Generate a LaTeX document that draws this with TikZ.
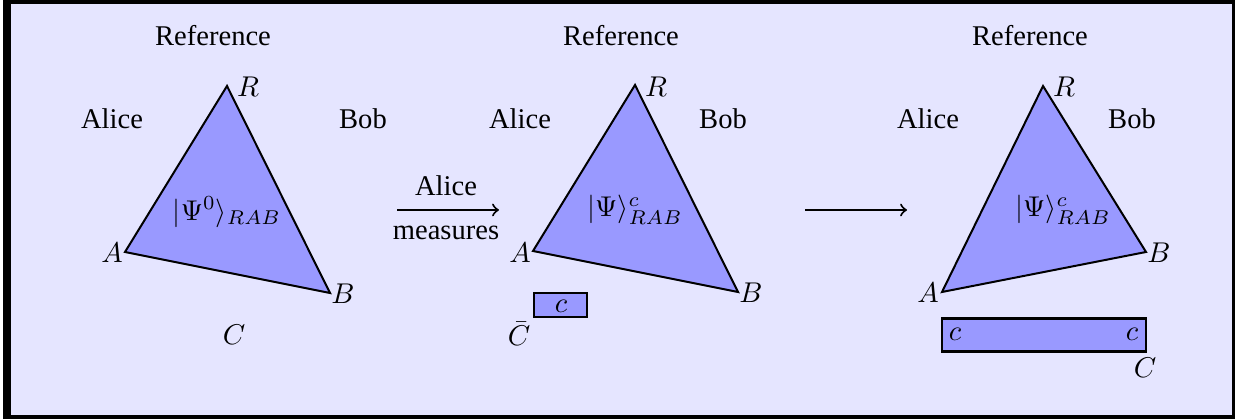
\documentclass[tikz,border=0pt]{standalone}
\usepackage{fontspec}
\setmainfont{Liberation Serif}
\definecolor{bgcol}{RGB}{229,229,255}
\definecolor{tfill}{RGB}{153,153,255}
\begin{document}
\begin{tikzpicture}[x=0.35pt,y=-0.35pt,
  tri/.style={fill=tfill,draw=black,line width=0.7pt,line join=miter},
  cbox/.style={fill=tfill,draw=black,line width=0.9pt,inner sep=0pt},
  lbl/.style={inner sep=0pt,anchor=center},
  arr/.style={->,line width=0.7pt}]
\useasboundingbox (0,0) rectangle (1235,419);
\fill[white] (0,0) rectangle (1235,419);
\fill[black] (3,0) rectangle (1235,419);
\fill[bgcol] (11,4) rectangle (1232,415);

% ---------- panel 1
\coordinate (R1) at (227,86);
\coordinate (A1) at (125,252);
\coordinate (B1) at (330,293);
\filldraw[tri] (R1) -- (A1) -- (B1) -- cycle;
\node[lbl] (ref1) at (213,36) {Reference};
\node[lbl] (al1) at (112,119) {Alice};
\node[lbl] (bo1) at (363,119) {Bob};
\node[lbl] (lR1) at (248,87) {$R$};
\node[lbl] (lA1) at (112,253) {$A$};
\node[lbl] (lB1) at (343,294) {$B$};
\node[lbl] (lC1) at (234,335) {$C$};
\node[lbl] (psi1) at (227,212) {$|\Psi^0\rangle_{RAB}$};

% ---------- arrow 1
\coordinate (a1s) at (397,210);
\coordinate (a1e) at (499,210);
\draw[arr] (a1s) -- (a1e);
\node[lbl] (am1) at (446,186) {Alice};
\node[lbl] (am2) at (446,233) {measures};

% ---------- panel 2
\coordinate (R2) at (635,85);
\coordinate (A2) at (533,251);
\coordinate (B2) at (738,292);
\filldraw[tri] (R2) -- (A2) -- (B2) -- cycle;
\node[lbl] (ref2) at (621,36) {Reference};
\node[lbl] (al2) at (520,119) {Alice};
\node[lbl] (bo2) at (723,119) {Bob};
\node[lbl] (lR2) at (656,87) {$R$};
\node[lbl] (lA2) at (520,253) {$A$};
\node[lbl] (lB2) at (751,293) {$B$};
\node[lbl] (psi2) at (635,210) {$|\Psi\rangle^c_{RAB}$};
\node[cbox,minimum width=53*0.35pt,minimum height=24*0.35pt] (box2) at (560.5,305) {};
\node[lbl] (c2) at (561,306.5) {$c$};
\node[lbl] (lC2) at (519,334) {$\bar C$};

% ---------- arrow 2
\coordinate (a2s) at (805,210);
\coordinate (a2e) at (907,210);
\draw[arr] (a2s) -- (a2e);

% ---------- panel 3
\coordinate (R3) at (1043,86);
\coordinate (A3) at (942,292);
\coordinate (B3) at (1146,252);
\filldraw[tri] (R3) -- (A3) -- (B3) -- cycle;
\node[lbl] (ref3) at (1030,36) {Reference};
\node[lbl] (al3) at (928,119) {Alice};
\node[lbl] (bo3) at (1132,119) {Bob};
\node[lbl] (lR3) at (1064,87) {$R$};
\node[lbl] (lA3) at (928,293) {$A$};
\node[lbl] (lB3) at (1159,253) {$B$};
\node[lbl] (psi3) at (1063,210) {$|\Psi\rangle^c_{RAB}$};
\node[cbox,minimum width=204*0.35pt,minimum height=33.5*0.35pt] (box3) at (1044,335) {};
\node[lbl] (c3a) at (955,334.5) {$c$};
\node[lbl] (c3b) at (1132,334.5) {$c$};
\node[lbl] (lC3) at (1145,368) {$C$};
\end{tikzpicture}
\end{document}
